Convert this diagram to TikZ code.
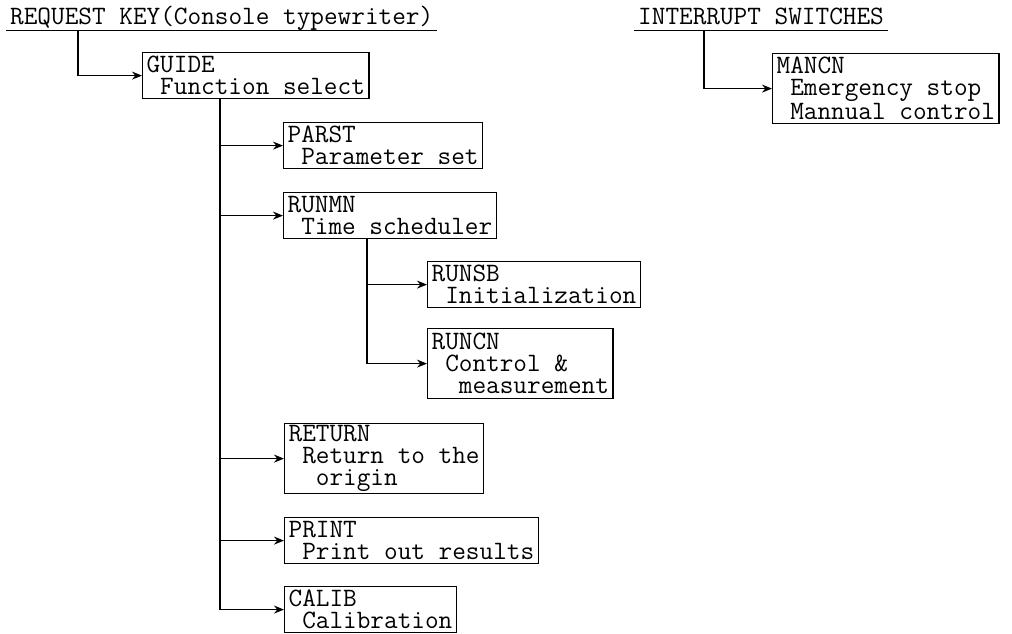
\documentclass[tikz,border=0pt]{standalone}
\usepackage{fontspec}
\usetikzlibrary{positioning,arrows.meta}
\setmonofont{Latin Modern Mono}
\newcommand{\lsp}{\phantom{0}}

\begin{document}
\begin{tikzpicture}[x=1pt, y=-1pt,
  prog/.style={draw, line width=1.2pt, anchor=north west, align=left,
               inner xsep=4pt, inner ysep=0pt, minimum height=46pt,
               font=\ttfamily\fontsize{26.5pt}{22pt}\selectfont},
  progtall/.style={prog, minimum height=70pt},
  head/.style={anchor=base west, inner xsep=4pt, inner ysep=0pt,
               text depth=6pt,
               font=\ttfamily\fontsize{26.5pt}{22pt}\selectfont},
  rule/.style={line width=1.2pt},
  edge/.style={line width=1.2pt, -{Stealth[length=10pt,width=8pt]}},
]
\useasboundingbox (0,0) rectangle (1012,633);

% Headings with their underlines
\node[head] (reqkey) at (6,24) {REQUEST KEY(Console typewriter)};
\node[head] (intsw) at (634,24) {INTERRUPT SWITCHES};
\draw[rule] (reqkey.south west) -- (reqkey.south east);
\draw[rule] (intsw.south west) -- (intsw.south east);
\coordinate (keytap) at ([xshift=72]reqkey.south west);
\coordinate (swtap) at ([xshift=70]intsw.south west);

% Level 1
\node[prog] (guide) at (142,52) {GUIDE\\\lsp Function select};
\node[progtall] (mancn) at (772,53)
  {MANCN\\\lsp Emergency stop\\\lsp Mannual control};

% Level 2
\node[prog] (parst) at (283,122) {PARST\\\lsp Parameter set};
\node[prog] (runmn) at (283,192) {RUNMN\\\lsp Time scheduler};
\node[progtall] (return) at (284,423)
  {RETURN\\\lsp Return to the\\\lsp\lsp origin};
\node[prog] (print) at (284,517) {PRINT\\\lsp Print out results};
\node[prog] (calib) at (284,586) {CALIB\\\lsp Calibration};

% Level 3 (under RUNMN)
\node[prog] (runsb) at (427,261) {RUNSB\\\lsp Initialization};
\node[progtall] (runcn) at (427,328)
  {RUNCN\\\lsp Control \&\\\lsp\lsp measurement};

% Taps on the box bottoms
\coordinate (guidetap) at ([xshift=78]guide.south west);
\coordinate (runmntap) at ([xshift=84]runmn.south west);

% Edges
\draw[edge] (keytap) |- (guide.west);
\draw[edge] (swtap) |- (mancn.west);
\draw[edge] (guidetap) |- (calib.west);
\draw[edge] (guidetap |- parst.west) -- (parst.west);
\draw[edge] (guidetap |- runmn.west) -- (runmn.west);
\draw[edge] (guidetap |- return.west) -- (return.west);
\draw[edge] (guidetap |- print.west) -- (print.west);
\draw[edge] (runmntap) |- (runcn.west);
\draw[edge] (runmntap |- runsb.west) -- (runsb.west);

\end{tikzpicture}
\end{document}
